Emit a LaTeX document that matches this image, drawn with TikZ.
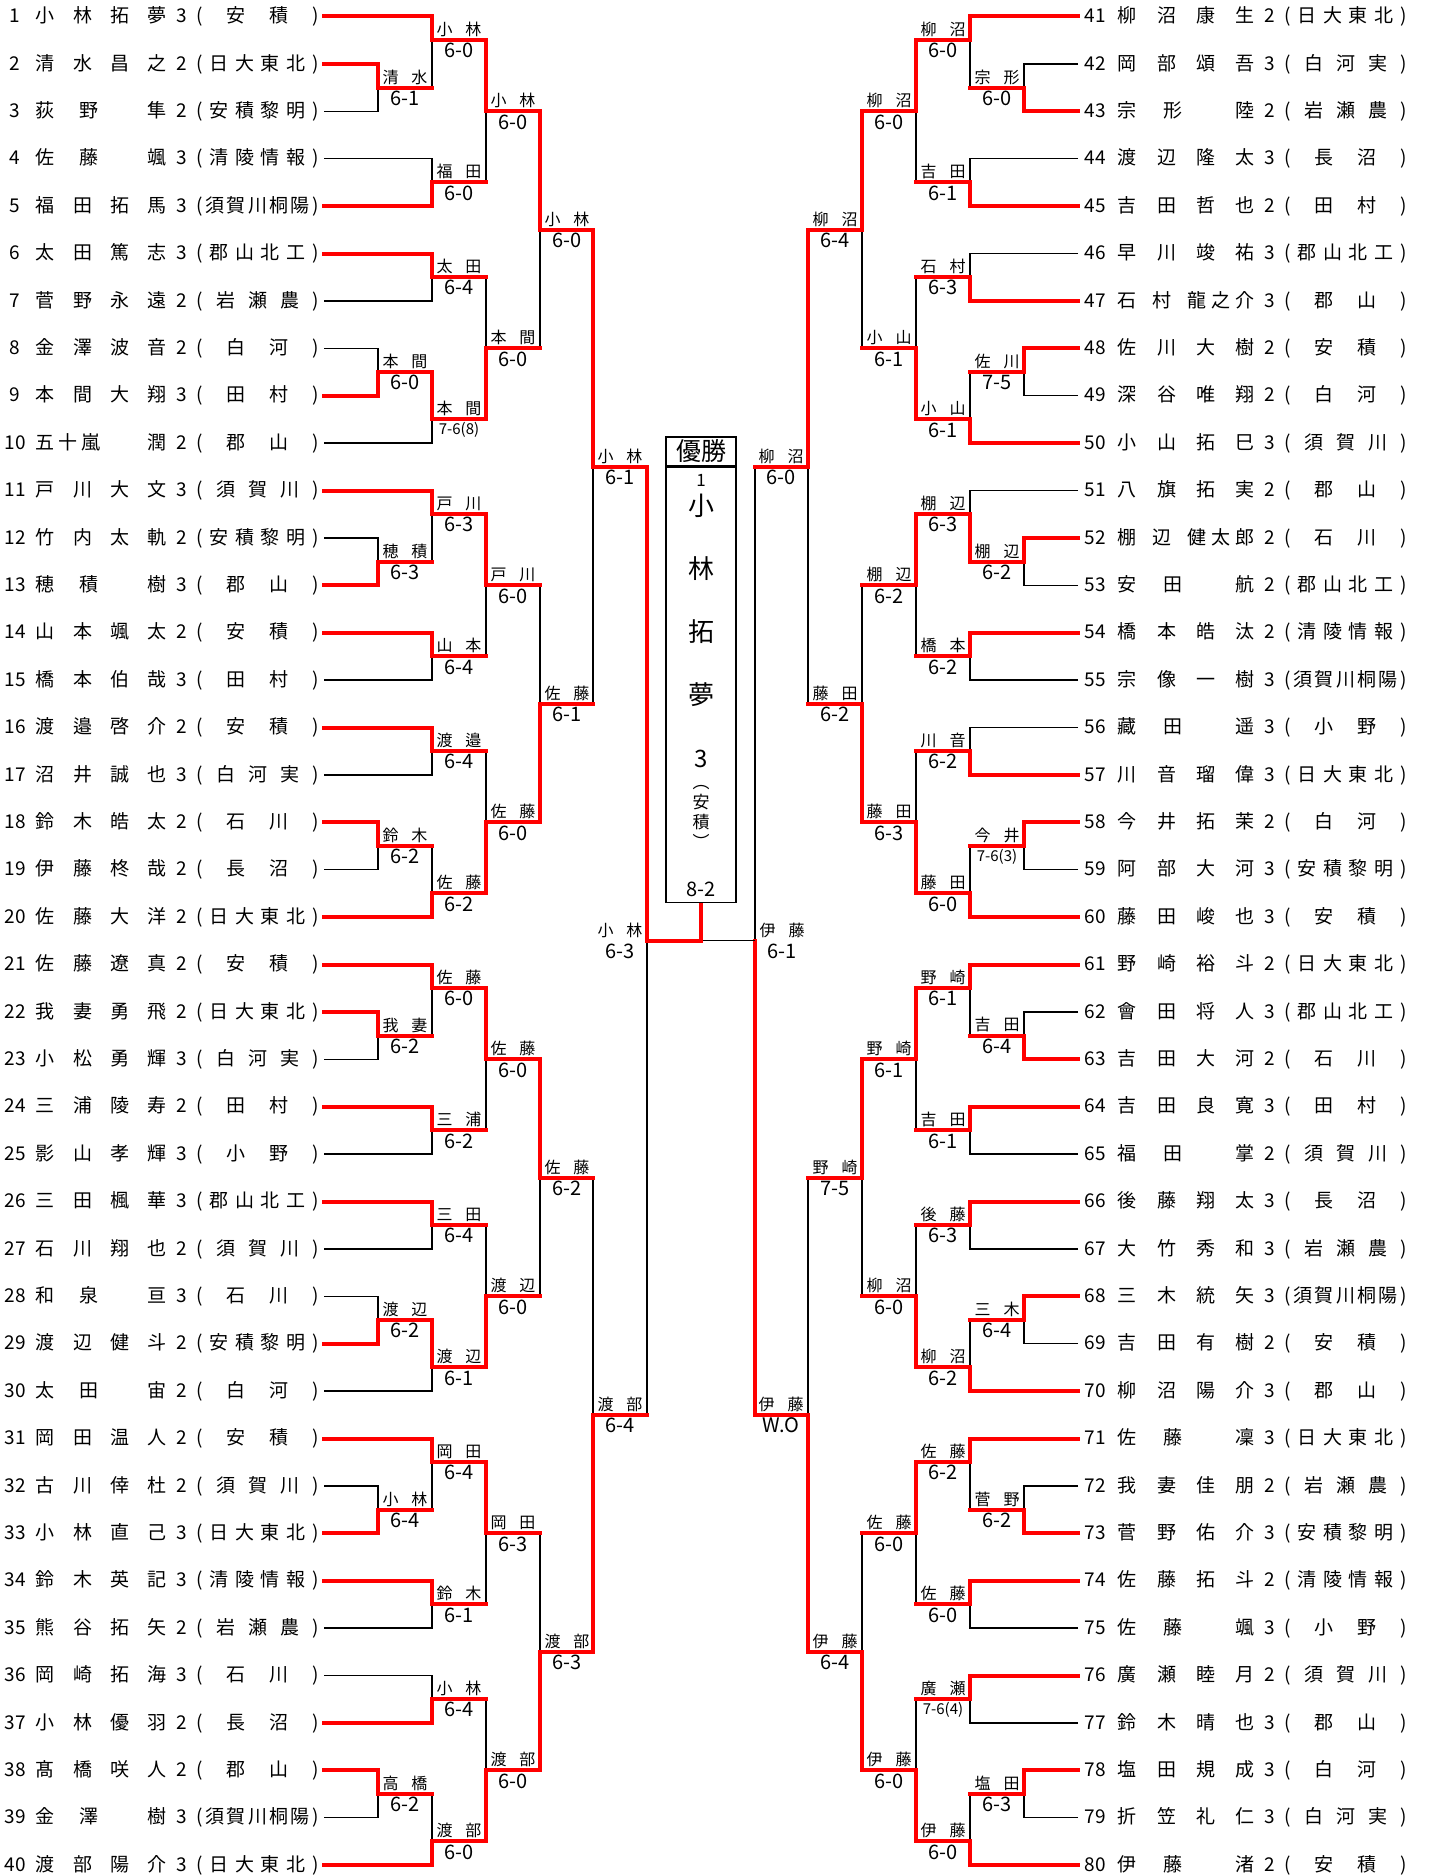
\documentclass[tikz,border=0pt]{standalone}
\usepackage{fontspec}
\setmainfont{Noto Sans CJK JP}
\usetikzlibrary{positioning}

% row position of a line (1..40 on each side)
\pgfmathdeclarefunction{rowy}{1}{\pgfmathparse{16.5+(#1-1)*47.4}}

\def\evenloop#1#2{#1\ifx\relax#2\else\hfill\expandafter\evenloop\fi#2}
\newcommand\evenly[1]{\evenloop#1\relax}
\def\firstchar#1#2\relax{#1}
\newcommand\ldir{1}
\newcommand\numw{30pt}
\newcommand\gapw{5.5pt}
\newcommand\namew{131pt}
\newcommand\tb[1]{{\fontsize{15}{15}\selectfont #1}}

\newcommand\entrytext[4]{\makebox[\numw]{#1}\hspace{\gapw}\makebox[\namew][s]{#2}\makebox[30pt]{#3}\makebox[6.5pt]{(}\makebox[109pt]{\hfill\expandafter\evenly\expandafter{#4}\hfill}\makebox[12pt][l]{)}}

% match: id, x, row, winner, loser, name, score
\newcommand\mt[7]{%
  \coordinate (#1) at (#2,{rowy(#3)});
  \draw[lose] (#5) -| (#1);
  \draw[win] (#4) -| (#1);
  \if m\firstchar#5\relax \draw[win] (#5) -- (#5 -| #1);\fi
  \node[mname] (#1n) at ([shift={(\ldir*27,-3)}]#1) {\makebox[45pt][s]{#6}};
  \node[mscore] (#1s) at ([shift={(\ldir*27,3)}]#1) {#7};
}

\tikzset{
  entry/.style={inner sep=0pt, anchor=west, font=\fontsize{19}{19}\selectfont},
  lose/.style={line width=1.3pt},
  win/.style={line width=4pt, red, line cap=rect},
  mname/.style={inner sep=0pt, anchor=south, font=\fontsize{16}{16}\selectfont},
  mscore/.style={inner sep=0pt, anchor=north, font=\fontsize{20}{20}\selectfont},
  cbox/.style={draw, line width=1.6pt, minimum width=70pt, inner sep=0pt},
}

\begin{document}
\begin{tikzpicture}[x=1pt,y=-1pt]
\useasboundingbox (0,0) rectangle (1432,1876);

% players, left side
\foreach \n/\nm/\g/\s in {
  1/{\evenly{小林拓夢}}/3/安積, 2/{\evenly{清水昌之}}/2/日大東北,
  3/{\evenly{荻野}\hfill\hfill 隼}/2/安積黎明, 4/{\evenly{佐藤}\hfill\hfill 颯}/3/清陵情報,
  5/{\evenly{福田拓馬}}/3/須賀川桐陽, 6/{\evenly{太田篤志}}/3/郡山北工,
  7/{\evenly{菅野永遠}}/2/岩瀬農, 8/{\evenly{金澤波音}}/2/白河,
  9/{\evenly{本間大翔}}/3/田村, 10/{五\hspace{4pt}十\hspace{4pt}嵐\hfill 潤}/2/郡山,
  11/{\evenly{戸川大文}}/3/須賀川, 12/{\evenly{竹内太軌}}/2/安積黎明,
  13/{\evenly{穂積}\hfill\hfill 樹}/3/郡山, 14/{\evenly{山本颯太}}/2/安積,
  15/{\evenly{橋本伯哉}}/3/田村, 16/{\evenly{渡邉啓介}}/2/安積,
  17/{\evenly{沼井誠也}}/3/白河実, 18/{\evenly{鈴木皓太}}/2/石川,
  19/{\evenly{伊藤柊哉}}/2/長沼, 20/{\evenly{佐藤大洋}}/2/日大東北,
  21/{\evenly{佐藤遼真}}/2/安積, 22/{\evenly{我妻勇飛}}/2/日大東北,
  23/{\evenly{小松勇輝}}/3/白河実, 24/{\evenly{三浦陵寿}}/2/田村,
  25/{\evenly{影山孝輝}}/3/小野, 26/{\evenly{三田楓華}}/3/郡山北工,
  27/{\evenly{石川翔也}}/2/須賀川, 28/{\evenly{和泉}\hfill\hfill 亘}/3/石川,
  29/{\evenly{渡辺健斗}}/2/安積黎明, 30/{\evenly{太田}\hfill\hfill 宙}/2/白河,
  31/{\evenly{岡田温人}}/2/安積, 32/{\evenly{古川倖杜}}/2/須賀川,
  33/{\evenly{小林直己}}/3/日大東北, 34/{\evenly{鈴木英記}}/3/清陵情報,
  35/{\evenly{熊谷拓矢}}/2/岩瀬農, 36/{\evenly{岡崎拓海}}/3/石川,
  37/{\evenly{小林優羽}}/2/長沼, 38/{\evenly{髙橋咲人}}/2/郡山,
  39/{\evenly{金澤}\hfill\hfill 樹}/3/須賀川桐陽, 40/{\evenly{渡部陽介}}/3/日大東北}
  \node[entry] (p\n) at (0,{rowy(\n)}) {\entrytext{\n}{\nm}{\g}{\s}};

% players, right side
\renewcommand\numw{34pt}\renewcommand\namew{137pt}
\foreach \n/\nm/\g/\s in {
  41/{\evenly{柳沼康生}}/2/日大東北, 42/{\evenly{岡部頌吾}}/3/白河実,
  43/{\evenly{宗形}\hfill\hfill 陸}/2/岩瀬農, 44/{\evenly{渡辺隆太}}/3/長沼,
  45/{\evenly{吉田哲也}}/2/田村, 46/{\evenly{早川竣祐}}/3/郡山北工,
  47/{石\hfill 村\hfill 龍\hspace{5pt}之\hspace{5pt}介}/3/郡山, 48/{\evenly{佐川大樹}}/2/安積,
  49/{\evenly{深谷唯翔}}/2/白河, 50/{\evenly{小山拓巳}}/3/須賀川,
  51/{\evenly{八旗拓実}}/2/郡山, 52/{棚\hfill 辺\hfill 健\hspace{5pt}太\hspace{5pt}郎}/2/石川,
  53/{\evenly{安田}\hfill\hfill 航}/2/郡山北工, 54/{\evenly{橋本皓汰}}/2/清陵情報,
  55/{\evenly{宗像一樹}}/3/須賀川桐陽, 56/{\evenly{藏田}\hfill\hfill 遥}/3/小野,
  57/{\evenly{川音瑠偉}}/3/日大東北, 58/{\evenly{今井拓茉}}/2/白河,
  59/{\evenly{阿部大河}}/3/安積黎明, 60/{\evenly{藤田峻也}}/3/安積,
  61/{\evenly{野崎裕斗}}/2/日大東北, 62/{\evenly{會田将人}}/3/郡山北工,
  63/{\evenly{吉田大河}}/2/石川, 64/{\evenly{吉田良寛}}/3/田村,
  65/{\evenly{福田}\hfill\hfill 掌}/2/須賀川, 66/{\evenly{後藤翔太}}/3/長沼,
  67/{\evenly{大竹秀和}}/3/岩瀬農, 68/{\evenly{三木統矢}}/3/須賀川桐陽,
  69/{\evenly{吉田有樹}}/2/安積, 70/{\evenly{柳沼陽介}}/3/郡山,
  71/{\evenly{佐藤}\hfill\hfill 凜}/3/日大東北, 72/{\evenly{我妻佳朋}}/2/岩瀬農,
  73/{\evenly{菅野佑介}}/3/安積黎明, 74/{\evenly{佐藤拓斗}}/2/清陵情報,
  75/{\evenly{佐藤}\hfill\hfill 颯}/3/小野, 76/{\evenly{廣瀬睦月}}/2/須賀川,
  77/{\evenly{鈴木晴也}}/3/郡山, 78/{\evenly{塩田規成}}/3/白河,
  79/{\evenly{折笠礼仁}}/3/白河実, 80/{\evenly{伊藤}\hfill\hfill 渚}/2/安積}
  \node[entry] (p\n) at (1078,{rowy(\n-40)}) {\entrytext{\n}{\nm}{\g}{\s}};

% left half
\mt{m1a}{378}{2.5}{p2}{p3}{清\hfill 水}{6-1}
\mt{m1b}{432}{1.5}{p1}{m1a}{小\hfill 林}{6-0}
\mt{m1c}{432}{4.5}{p5}{p4}{福\hfill 田}{6-0}
\mt{m1d}{486}{3}{m1b}{m1c}{小\hfill 林}{6-0}
\mt{m1e}{432}{6.5}{p6}{p7}{太\hfill 田}{6-4}
\mt{m1f}{378}{8.5}{p9}{p8}{本\hfill 間}{6-0}
\mt{m1g}{432}{9.5}{m1f}{p10}{本\hfill 間}{\tb{7-6(8)}}
\mt{m1h}{486}{8}{m1g}{m1e}{本\hfill 間}{6-0}
\mt{m1i}{540}{5.5}{m1d}{m1h}{小\hfill 林}{6-0}
\mt{m2a}{378}{12.5}{p13}{p12}{穂\hfill 積}{6-3}
\mt{m2b}{432}{11.5}{p11}{m2a}{戸\hfill 川}{6-3}
\mt{m2c}{432}{14.5}{p14}{p15}{山\hfill 本}{6-4}
\mt{m2d}{486}{13}{m2b}{m2c}{戸\hfill 川}{6-0}
\mt{m2e}{432}{16.5}{p16}{p17}{渡\hfill 邉}{6-4}
\mt{m2f}{378}{18.5}{p18}{p19}{鈴\hfill 木}{6-2}
\mt{m2g}{432}{19.5}{p20}{m2f}{佐\hfill 藤}{6-2}
\mt{m2h}{486}{18}{m2g}{m2e}{佐\hfill 藤}{6-0}
\mt{m2i}{540}{15.5}{m2h}{m2d}{佐\hfill 藤}{6-1}
\mt{m12}{593}{10.5}{m1i}{m2i}{小\hfill 林}{6-1}
\mt{m3a}{378}{22.5}{p22}{p23}{我\hfill 妻}{6-2}
\mt{m3b}{432}{21.5}{p21}{m3a}{佐\hfill 藤}{6-0}
\mt{m3c}{432}{24.5}{p24}{p25}{三\hfill 浦}{6-2}
\mt{m3d}{486}{23}{m3b}{m3c}{佐\hfill 藤}{6-0}
\mt{m3e}{432}{26.5}{p26}{p27}{三\hfill 田}{6-4}
\mt{m3f}{378}{28.5}{p29}{p28}{渡\hfill 辺}{6-2}
\mt{m3g}{432}{29.5}{m3f}{p30}{渡\hfill 辺}{6-1}
\mt{m3h}{486}{28}{m3g}{m3e}{渡\hfill 辺}{6-0}
\mt{m3i}{540}{25.5}{m3d}{m3h}{佐\hfill 藤}{6-2}
\mt{m4a}{378}{32.5}{p33}{p32}{小\hfill 林}{6-4}
\mt{m4b}{432}{31.5}{p31}{m4a}{岡\hfill 田}{6-4}
\mt{m4c}{432}{34.5}{p34}{p35}{鈴\hfill 木}{6-1}
\mt{m4d}{486}{33}{m4b}{m4c}{岡\hfill 田}{6-3}
\mt{m4e}{432}{36.5}{p37}{p36}{小\hfill 林}{6-4}
\mt{m4f}{378}{38.5}{p38}{p39}{高\hfill 橋}{6-2}
\mt{m4g}{432}{39.5}{p40}{m4f}{渡\hfill 部}{6-0}
\mt{m4h}{486}{38}{m4g}{m4e}{渡\hfill 部}{6-0}
\mt{m4i}{540}{35.5}{m4h}{m4d}{渡\hfill 部}{6-3}
\mt{m34}{593}{30.5}{m4i}{m3i}{渡\hfill 部}{6-4}
\renewcommand\ldir{-1}
\mt{sL}{647}{20.5}{m12}{m34}{小\hfill 林}{6-3}

% right half
\mt{m5a}{1024}{2.5}{p43}{p42}{宗\hfill 形}{6-0}
\mt{m5b}{970}{1.5}{p41}{m5a}{柳\hfill 沼}{6-0}
\mt{m5c}{970}{4.5}{p45}{p44}{吉\hfill 田}{6-1}
\mt{m5d}{916}{3}{m5b}{m5c}{柳\hfill 沼}{6-0}
\mt{m5e}{970}{6.5}{p47}{p46}{石\hfill 村}{6-3}
\mt{m5f}{1024}{8.5}{p48}{p49}{佐\hfill 川}{7-5}
\mt{m5g}{970}{9.5}{p50}{m5f}{小\hfill 山}{6-1}
\mt{m5h}{916}{8}{m5g}{m5e}{小\hfill 山}{6-1}
\mt{m5i}{862}{5.5}{m5d}{m5h}{柳\hfill 沼}{6-4}
\mt{m6a}{1024}{12.5}{p52}{p53}{棚\hfill 辺}{6-2}
\mt{m6b}{970}{11.5}{m6a}{p51}{棚\hfill 辺}{6-3}
\mt{m6c}{970}{14.5}{p54}{p55}{橋\hfill 本}{6-2}
\mt{m6d}{916}{13}{m6b}{m6c}{棚\hfill 辺}{6-2}
\mt{m6e}{970}{16.5}{p57}{p56}{川\hfill 音}{6-2}
\mt{m6f}{1024}{18.5}{p58}{p59}{今\hfill 井}{\tb{7-6(3)}}
\mt{m6g}{970}{19.5}{p60}{m6f}{藤\hfill 田}{6-0}
\mt{m6h}{916}{18}{m6g}{m6e}{藤\hfill 田}{6-3}
\mt{m6i}{862}{15.5}{m6h}{m6d}{藤\hfill 田}{6-2}
\mt{m56}{808}{10.5}{m5i}{m6i}{柳\hfill 沼}{6-0}
\mt{m7a}{1024}{22.5}{p63}{p62}{吉\hfill 田}{6-4}
\mt{m7b}{970}{21.5}{p61}{m7a}{野\hfill 崎}{6-1}
\mt{m7c}{970}{24.5}{p64}{p65}{吉\hfill 田}{6-1}
\mt{m7d}{916}{23}{m7b}{m7c}{野\hfill 崎}{6-1}
\mt{m7e}{970}{26.5}{p66}{p67}{後\hfill 藤}{6-3}
\mt{m7f}{1024}{28.5}{p68}{p69}{三\hfill 木}{6-4}
\mt{m7g}{970}{29.5}{p70}{m7f}{柳\hfill 沼}{6-2}
\mt{m7h}{916}{28}{m7g}{m7e}{柳\hfill 沼}{6-0}
\mt{m7i}{862}{25.5}{m7d}{m7h}{野\hfill 崎}{7-5}
\mt{m8a}{1024}{32.5}{p73}{p72}{菅\hfill 野}{6-2}
\mt{m8b}{970}{31.5}{p71}{m8a}{佐\hfill 藤}{6-2}
\mt{m8c}{970}{34.5}{p74}{p75}{佐\hfill 藤}{6-0}
\mt{m8d}{916}{33}{m8b}{m8c}{佐\hfill 藤}{6-0}
\mt{m8e}{970}{36.5}{p76}{p77}{廣\hfill 瀬}{\tb{7-6(4)}}
\mt{m8f}{1024}{38.5}{p78}{p79}{塩\hfill 田}{6-3}
\mt{m8g}{970}{39.5}{p80}{m8f}{伊\hfill 藤}{6-0}
\mt{m8h}{916}{38}{m8g}{m8e}{伊\hfill 藤}{6-0}
\mt{m8i}{862}{35.5}{m8h}{m8d}{伊\hfill 藤}{6-4}
\mt{m78}{808}{30.5}{m8i}{m7i}{伊\hfill 藤}{W.O}
\renewcommand\ldir{1}
\mt{sR}{755}{20.5}{m78}{m56}{伊\hfill 藤}{6-1}

% champion
\node[cbox, minimum height=29pt, font=\fontsize{25}{25}\selectfont] (hd) at (701,451.5) {優勝};
\node[cbox, minimum height=435pt, anchor=north] (champ) at (hd.south) {};
\node[font=\fontsize{17}{17}\selectfont] (cseed) at (701,480) {1};
\node[align=center, font=\fontsize{26}{63}\selectfont] (cname) at (701,600) {小\\林\\拓\\夢};
\node[font=\fontsize{24}{24}\selectfont] (cgrade) at (701,759) {3};
\node[align=center, font=\fontsize{17}{20}\selectfont] (cschool) at (701,817) {︵\\安\\積\\︶};
\node[font=\fontsize{20}{20}\selectfont] (cscore) at (701,889) {8-2};
\draw[lose] (sR) -| (champ.south);
\draw[win, line cap=butt] (sL) -| (champ.south);
\end{tikzpicture}
\end{document}
